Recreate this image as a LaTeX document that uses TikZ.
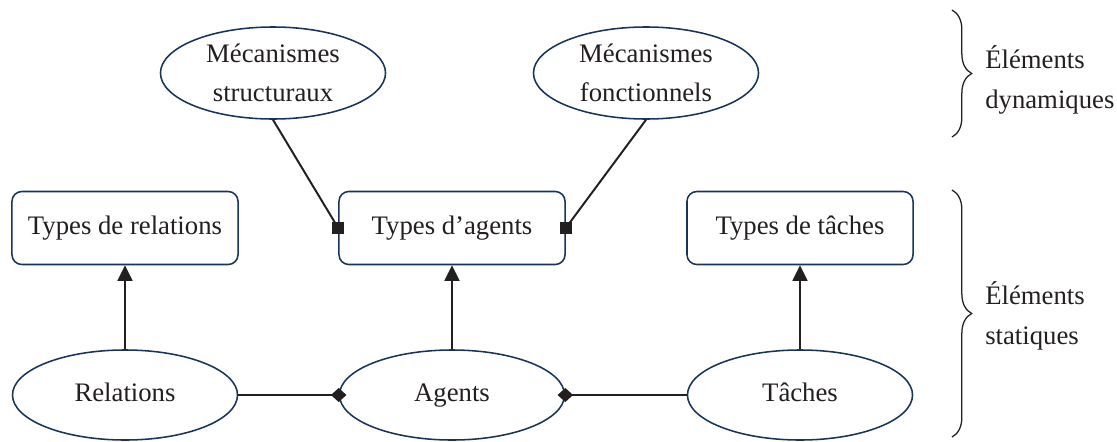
\documentclass[tikz,border=0pt]{standalone}
\usepackage{fontspec}
\setmainfont{Liberation Serif}
\usetikzlibrary{shapes.geometric,arrows.meta,decorations.pathreplacing}
\definecolor{outl}{RGB}{22,52,92}
\definecolor{ink}{RGB}{35,31,32}

\begin{document}
\begin{tikzpicture}[x=0.025cm, y=-0.025cm,
  every node/.style={text=ink, font=\fontsize{19}{28}\selectfont},
  elt/.style={ellipse, draw=outl, fill=white, line width=1.1pt, inner sep=0pt,
    minimum width=5.625cm, minimum height=2.3cm, align=center},
  basic/.style={elt, minimum height=2.25cm, text height=13pt, text depth=4pt},
  typebox/.style={rectangle, rounded corners=7pt, draw=outl, fill=white, line width=1.1pt,
    inner sep=0pt, minimum width=5.65cm, minimum height=1.825cm},
  conn/.style={draw=ink, line width=1.4pt},
  grp/.style={draw=ink, line width=0.9pt, decorate, decoration={brace, amplitude=14pt}}]
  \useasboundingbox (0,0) rectangle (1117,441);
  % dynamic part
  \node[elt] (mstruct) at (273,73) {Mécanismes\\structuraux};
  \node[elt] (mfonct) at (646,73) {Mécanismes\\fonctionnels};
  % type boxes
  \node[typebox] (trel) at (125,228) {Types de relations};
  \node[typebox] (tagt) at (452,228) {Types d’agents};
  \node[typebox] (ttac) at (800,228) {Types de tâches};
  % static elements
  \node[basic] (rel) at (125,395) {Relations};
  \node[basic] (agt) at (452,395) {Agents};
  \node[basic] (tac) at (800,395) {Tâches};
  % connectors
  \foreach \a/\b in {rel/trel, agt/tagt, tac/ttac}
    \draw[conn, -{Triangle[length=11pt,width=10.5pt]}] (\a) -- (\b);
  \draw[conn, -{Diamond[length=11pt,width=10pt]}, shorten >=-5.5pt] (rel) -- (agt);
  \draw[conn, -{Diamond[length=11pt,width=10pt]}, shorten >=-5.5pt] (tac) -- (agt);
  \draw[conn] (mstruct.south) -- (tagt.west);
  \draw[conn] (mfonct.south) -- (tagt.east);
  \fill[ink] ([shift={(-6,-6)}]tagt.west) rectangle ++(12,12);
  \fill[ink] ([shift={(-6,-6)}]tagt.east) rectangle ++(12,12);
  % braces and their labels
  \draw[grp] (952,10) -- (952,137);
  \draw[grp] (952,190) -- (952,437);
  \node[anchor=west, inner sep=0pt, align=left] (dyn) at (985,80) {Éléments\\dynamiques};
  \node[anchor=west, inner sep=0pt, align=left] (stat) at (985,316) {Éléments\\statiques};
\end{tikzpicture}
\end{document}
